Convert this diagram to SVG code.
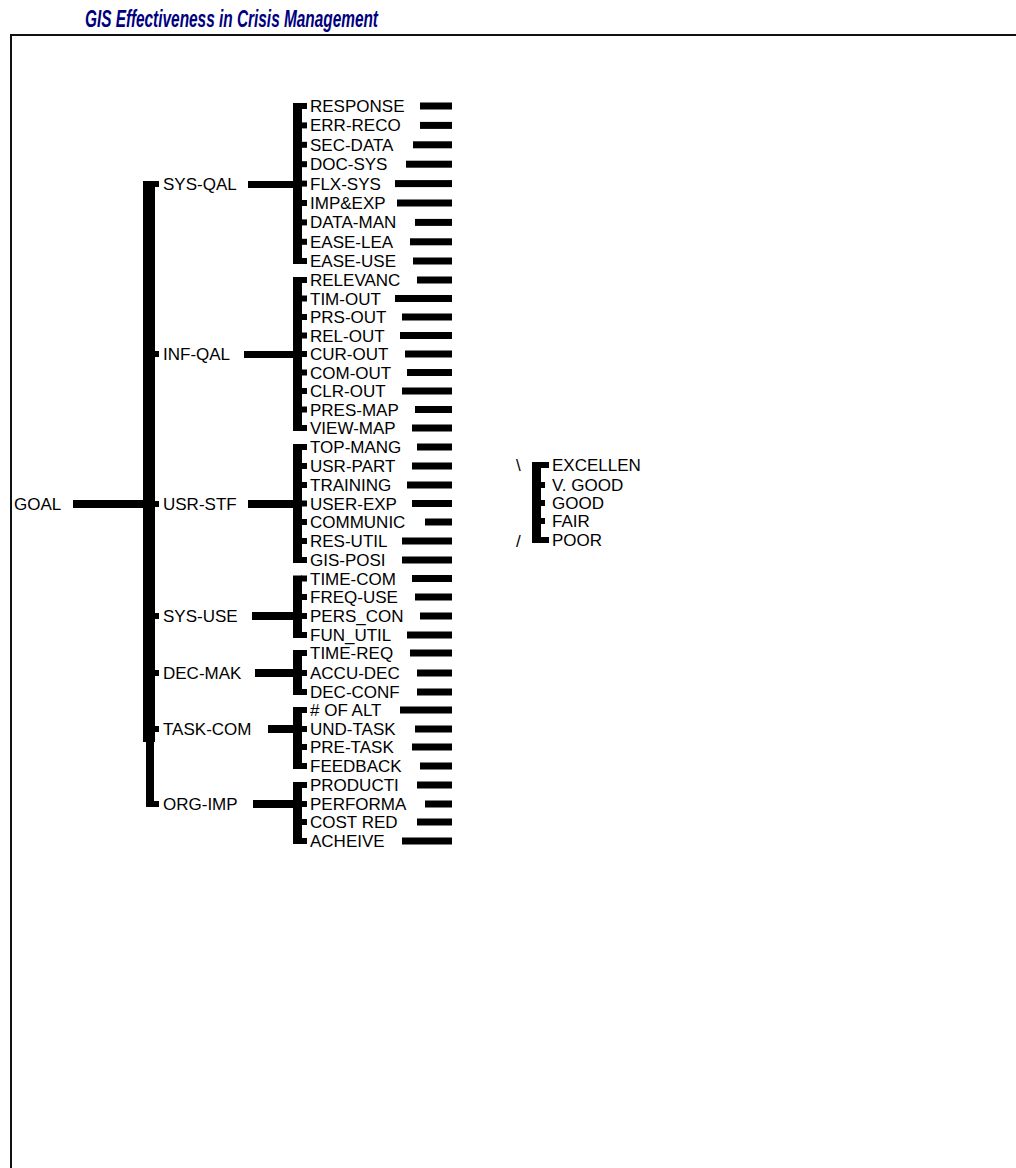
<svg xmlns="http://www.w3.org/2000/svg" width="1016" height="1168" viewBox="0 0 1016 1168">
<style>
.t{font-family:"Liberation Sans",Arial,sans-serif;font-size:17px;fill:#000}
.b{fill:#000}
.title{font-family:"Liberation Sans",Arial,sans-serif;font-size:23px;font-weight:bold;font-style:italic;fill:#00007f}
</style>
<rect width="1016" height="1168" fill="#fff"/>
<text class="title" x="85" y="27" textLength="293" lengthAdjust="spacingAndGlyphs">GIS Effectiveness in Crisis Management</text>
<path d="M11,1168 V35 H1016" fill="none" stroke="#111" stroke-width="2"/>

<g id="connectors" class="b">
  <rect x="73" y="500" width="72" height="8"/>
  <rect x="143" y="181" width="12" height="561"/>
  <rect x="146" y="740" width="8" height="67"/>
  <rect x="143" y="181" width="16" height="6"/>
  <rect x="154" y="351" width="5" height="6"/>
  <rect x="154" y="501" width="5" height="6"/>
  <rect x="154" y="613" width="5" height="6"/>
  <rect x="154" y="670" width="5" height="6"/>
  <rect x="154" y="726" width="5" height="6"/>
  <rect x="146" y="801" width="13" height="6"/>
  <rect x="248" y="181" width="47" height="7"/>
  <rect x="244" y="351" width="51" height="7"/>
  <rect x="248" y="500" width="47" height="8"/>
  <rect x="252" y="612" width="43" height="8"/>
  <rect x="255" y="669" width="40" height="8"/>
  <rect x="268" y="725" width="27" height="8"/>
  <rect x="253" y="800" width="42" height="8"/>
  <rect x="293" y="103" width="9" height="161"/>
  <rect x="293" y="277" width="9" height="154"/>
  <rect x="293" y="444" width="9" height="119"/>
  <rect x="293" y="575.5" width="9" height="62.5"/>
  <rect x="293" y="650" width="9" height="45"/>
  <rect x="293" y="707" width="9" height="62"/>
  <rect x="293" y="782" width="9" height="62"/>
  <g>
    <rect x="301" y="103" width="6" height="6"/><rect x="301" y="122.4" width="6" height="6"/><rect x="301" y="141.8" width="6" height="6"/><rect x="301" y="161.2" width="6" height="6"/><rect x="301" y="180.6" width="6" height="6"/><rect x="301" y="200" width="6" height="6"/><rect x="301" y="219.4" width="6" height="6"/><rect x="301" y="238.8" width="6" height="6"/><rect x="301" y="258" width="6" height="6"/>
    <rect x="301" y="277" width="6" height="6"/><rect x="301" y="295.5" width="6" height="6"/><rect x="301" y="314" width="6" height="6"/><rect x="301" y="332.5" width="6" height="6"/><rect x="301" y="351" width="6" height="6"/><rect x="301" y="369.5" width="6" height="6"/><rect x="301" y="388" width="6" height="6"/><rect x="301" y="406.5" width="6" height="6"/><rect x="301" y="425" width="6" height="6"/>
    <rect x="301" y="444" width="6" height="6"/><rect x="301" y="463" width="6" height="6"/><rect x="301" y="482" width="6" height="6"/><rect x="301" y="500.5" width="6" height="6"/><rect x="301" y="519" width="6" height="6"/><rect x="301" y="538" width="6" height="6"/><rect x="301" y="557" width="6" height="6"/>
    <rect x="301" y="575.5" width="6" height="6"/><rect x="301" y="594" width="6" height="6"/><rect x="301" y="613" width="6" height="6"/><rect x="301" y="632" width="6" height="6"/>
    <rect x="301" y="650" width="6" height="6"/><rect x="301" y="670" width="6" height="6"/><rect x="301" y="689" width="6" height="6"/>
    <rect x="301" y="707" width="6" height="6"/><rect x="301" y="726" width="6" height="6"/><rect x="301" y="744" width="6" height="6"/><rect x="301" y="763" width="6" height="6"/>
    <rect x="301" y="782" width="6" height="6"/><rect x="301" y="801" width="6" height="6"/><rect x="301" y="819" width="6" height="6"/><rect x="301" y="838" width="6" height="6"/>
  </g>
  <rect x="532" y="462" width="9" height="81"/>
  <rect x="540" y="462" width="9" height="6"/>
  <rect x="540" y="482" width="5" height="6"/>
  <rect x="540" y="500" width="5" height="6"/>
  <rect x="540" y="518" width="5" height="6"/>
  <rect x="540" y="537" width="9" height="6"/>
</g>

<g id="goal"><text class="t" x="14" y="510">GOAL</text></g>

<g id="sys-qal"><text class="t" x="163" y="190">SYS-QAL</text></g>
<g id="inf-qal"><text class="t" x="163" y="360">INF-QAL</text></g>
<g id="usr-stf"><text class="t" x="163" y="510">USR-STF</text></g>
<g id="sys-use"><text class="t" x="163" y="622">SYS-USE</text></g>
<g id="dec-mak"><text class="t" x="163" y="679">DEC-MAK</text></g>
<g id="task-com"><text class="t" x="163" y="735">TASK-COM</text></g>
<g id="org-imp"><text class="t" x="163" y="810">ORG-IMP</text></g>

<g id="leaves">
  <g id="response"><text class="t" x="310" y="112">RESPONSE</text><rect class="b" x="420" y="102.5" width="32" height="7"/></g>
  <g id="err-reco"><text class="t" x="310" y="131.4">ERR-RECO</text><rect class="b" x="420" y="121.9" width="32" height="7"/></g>
  <g id="sec-data"><text class="t" x="310" y="150.8">SEC-DATA</text><rect class="b" x="413" y="141.3" width="39" height="7"/></g>
  <g id="doc-sys"><text class="t" x="310" y="170.2">DOC-SYS</text><rect class="b" x="406" y="160.7" width="46" height="7"/></g>
  <g id="flx-sys"><text class="t" x="310" y="189.6">FLX-SYS</text><rect class="b" x="395" y="180.1" width="57" height="7"/></g>
  <g id="imp-exp"><text class="t" x="310" y="209">IMP&amp;EXP</text><rect class="b" x="397" y="199.5" width="55" height="7"/></g>
  <g id="data-man"><text class="t" x="310" y="228.4">DATA-MAN</text><rect class="b" x="415" y="218.9" width="37" height="7"/></g>
  <g id="ease-lea"><text class="t" x="310" y="247.8">EASE-LEA</text><rect class="b" x="410" y="238.3" width="42" height="7"/></g>
  <g id="ease-use"><text class="t" x="310" y="267">EASE-USE</text><rect class="b" x="413" y="257.5" width="39" height="7"/></g>

  <g id="relevanc"><text class="t" x="310" y="286">RELEVANC</text><rect class="b" x="417" y="276.5" width="35" height="7"/></g>
  <g id="tim-out"><text class="t" x="310" y="304.5">TIM-OUT</text><rect class="b" x="395" y="295" width="57" height="7"/></g>
  <g id="prs-out"><text class="t" x="310" y="323">PRS-OUT</text><rect class="b" x="402" y="313.5" width="50" height="7"/></g>
  <g id="rel-out"><text class="t" x="310" y="341.5">REL-OUT</text><rect class="b" x="400" y="332" width="52" height="7"/></g>
  <g id="cur-out"><text class="t" x="310" y="360">CUR-OUT</text><rect class="b" x="405" y="350.5" width="47" height="7"/></g>
  <g id="com-out"><text class="t" x="310" y="378.5">COM-OUT</text><rect class="b" x="407" y="369" width="45" height="7"/></g>
  <g id="clr-out"><text class="t" x="310" y="397">CLR-OUT</text><rect class="b" x="402" y="387.5" width="50" height="7"/></g>
  <g id="pres-map"><text class="t" x="310" y="415.5">PRES-MAP</text><rect class="b" x="415" y="406" width="37" height="7"/></g>
  <g id="view-map"><text class="t" x="310" y="434">VIEW-MAP</text><rect class="b" x="412" y="424.5" width="40" height="7"/></g>

  <g id="top-mang"><text class="t" x="310" y="453">TOP-MANG</text><rect class="b" x="417" y="443.5" width="35" height="7"/></g>
  <g id="usr-part"><text class="t" x="310" y="472">USR-PART</text><rect class="b" x="412" y="462.5" width="40" height="7"/></g>
  <g id="training"><text class="t" x="310" y="491">TRAINING</text><rect class="b" x="407" y="481.5" width="45" height="7"/></g>
  <g id="user-exp"><text class="t" x="310" y="509.5">USER-EXP</text><rect class="b" x="412" y="500" width="40" height="7"/></g>
  <g id="communic"><text class="t" x="310" y="528">COMMUNIC</text><rect class="b" x="425" y="518.5" width="27" height="7"/></g>
  <g id="res-util"><text class="t" x="310" y="547">RES-UTIL</text><rect class="b" x="402" y="537.5" width="50" height="7"/></g>
  <g id="gis-posi"><text class="t" x="310" y="566">GIS-POSI</text><rect class="b" x="402" y="556.5" width="50" height="7"/></g>

  <g id="time-com"><text class="t" x="310" y="584.5">TIME-COM</text><rect class="b" x="412" y="575" width="40" height="7"/></g>
  <g id="freq-use"><text class="t" x="310" y="603">FREQ-USE</text><rect class="b" x="415" y="593.5" width="37" height="7"/></g>
  <g id="pers-con"><text class="t" x="310" y="622">PERS_CON</text><rect class="b" x="420" y="612.5" width="32" height="7"/></g>
  <g id="fun-util"><text class="t" x="310" y="641">FUN_UTIL</text><rect class="b" x="407" y="631.5" width="45" height="7"/></g>

  <g id="time-req"><text class="t" x="310" y="659">TIME-REQ</text><rect class="b" x="410" y="649.5" width="42" height="7"/></g>
  <g id="accu-dec"><text class="t" x="310" y="679">ACCU-DEC</text><rect class="b" x="417" y="669.5" width="35" height="7"/></g>
  <g id="dec-conf"><text class="t" x="310" y="698">DEC-CONF</text><rect class="b" x="417" y="688.5" width="35" height="7"/></g>

  <g id="of-alt"><text class="t" x="310" y="716"># OF ALT</text><rect class="b" x="400" y="706.5" width="52" height="7"/></g>
  <g id="und-task"><text class="t" x="310" y="735">UND-TASK</text><rect class="b" x="415" y="725.5" width="37" height="7"/></g>
  <g id="pre-task"><text class="t" x="310" y="753">PRE-TASK</text><rect class="b" x="412" y="743.5" width="40" height="7"/></g>
  <g id="feedback"><text class="t" x="310" y="772">FEEDBACK</text><rect class="b" x="420" y="762.5" width="32" height="7"/></g>

  <g id="producti"><text class="t" x="310" y="791">PRODUCTI</text><rect class="b" x="417" y="781.5" width="35" height="7"/></g>
  <g id="performa"><text class="t" x="310" y="810">PERFORMA</text><rect class="b" x="425" y="800.5" width="27" height="7"/></g>
  <g id="cost-red"><text class="t" x="310" y="828">COST RED</text><rect class="b" x="417" y="818.5" width="35" height="7"/></g>
  <g id="acheive"><text class="t" x="310" y="847">ACHEIVE</text><rect class="b" x="402" y="837.5" width="50" height="7"/></g>
</g>

<g id="scale">
  <text class="t" x="516" y="471">\</text>
  <text class="t" x="516" y="547">/</text>
  <text class="t" x="552" y="471">EXCELLEN</text>
  <text class="t" x="552" y="491">V. GOOD</text>
  <text class="t" x="552" y="509">GOOD</text>
  <text class="t" x="552" y="527">FAIR</text>
  <text class="t" x="552" y="546">POOR</text>
</g>
</svg>
